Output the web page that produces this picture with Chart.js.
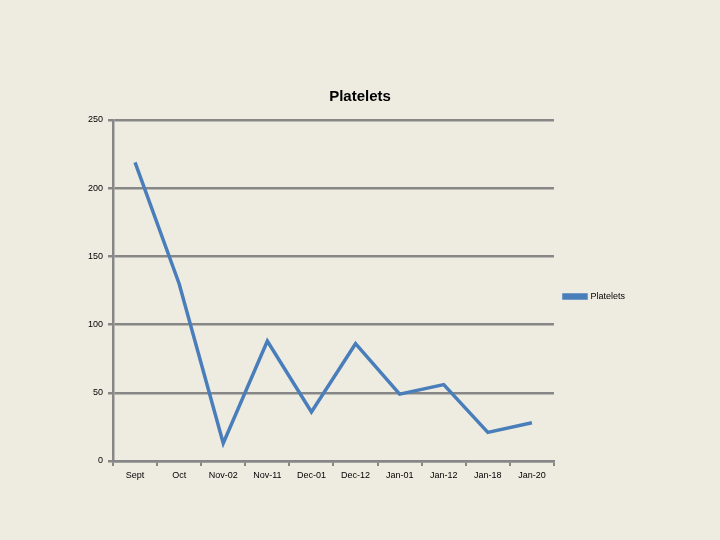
<!DOCTYPE html>
<html>
<head>
<meta charset="utf-8">
<script src="https://cdn.jsdelivr.net/npm/chart.js@4/dist/chart.umd.min.js"></script>
<style>
  html, body { margin: 0; padding: 0; background: #eeece1; }
  #wrap { width: 720px; height: 540px; }
</style>
</head>
<body>
<div id="wrap"><canvas id="chart" width="720" height="540"></canvas></div>
<script>
const categories = ["Sept", "Oct", "Nov-02", "Nov-11", "Dec-01", "Dec-12", "Jan-01", "Jan-12", "Jan-18", "Jan-20"];
const platelets = [219, 130, 13, 88, 36, 86, 49, 56, 21, 28];
const yTicks = [0, 50, 100, 150, 200, 250];

const gridColor = "#878787";
const lineColor = "#4a7ebb";
const tickFont = { family: "Liberation Sans, Arial", size: 9 };

new Chart(document.getElementById("chart"), {
  type: "line",
  data: {
    labels: categories,
    datasets: [
      {
        label: "Platelets",
        data: platelets,
        borderColor: lineColor,
        backgroundColor: lineColor,
        borderWidth: 3.5,
        pointRadius: 0,
        tension: 0,
      },
    ],
  },
  options: {
    responsive: false,
    animation: false,
    // equal side padding keeps the title centred on the page
    layout: { padding: { top: 80, right: 85, bottom: 49, left: 85 } },
    plugins: {
      title: {
        display: true,
        text: "Platelets",
        color: "#000",
        font: { family: "Liberation Sans, Arial", size: 15, weight: "bold" },
        padding: { top: 8, bottom: 14 },
      },
      legend: {
        position: "right",
        title: { display: true, text: " ", font: tickFont, padding: 5.6 },
        labels: {
          color: "#000",
          font: tickFont,
          boxWidth: 22,
          boxHeight: 3,
          padding: 10,
        },
      },
      tooltip: { enabled: false },
    },
    scales: {
      x: {
        offset: true,
        afterFit: (scale) => { scale.height = 30; },
        grid: {
          offset: true,
          drawOnChartArea: false,
          drawTicks: true,
          tickLength: 5,
          color: gridColor,
          lineWidth: 2,
        },
        border: { color: gridColor, width: 2.5 },
        ticks: { color: "#000", font: tickFont, padding: 4, maxRotation: 0 },
      },
      y: {
        min: 0,
        max: 250,
        afterFit: (scale) => { scale.width = 28; },
        afterBuildTicks: (scale) => { scale.ticks = yTicks.map((v) => ({ value: v })); },
        grid: { color: gridColor, lineWidth: 2.5, tickLength: 5 },
        border: { color: gridColor, width: 2.5 },
        ticks: { color: "#000", font: tickFont, padding: 5 },
      },
    },
  },
});
</script>
</body>
</html>
